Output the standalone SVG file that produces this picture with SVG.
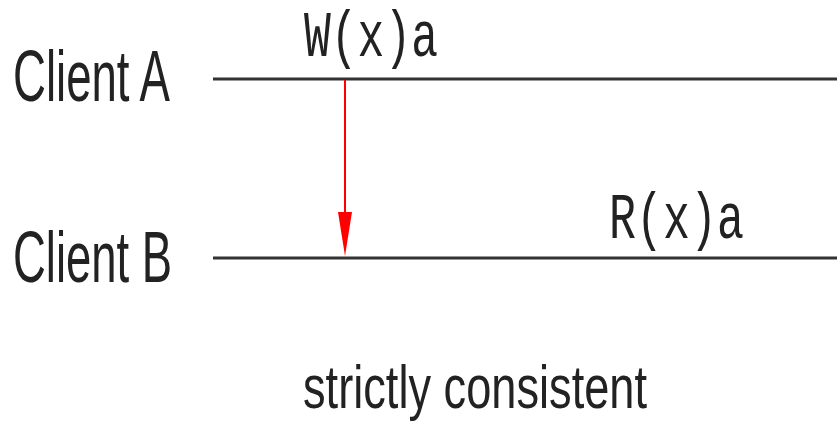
<svg xmlns="http://www.w3.org/2000/svg" width="837" height="430" viewBox="0 0 837 430">
<defs>
<style>
.lbl{font-family:"Liberation Sans",Arial,sans-serif;fill:#222;}
.mono{font-family:"Liberation Mono","Courier New",monospace;fill:#222;}
.tl{stroke:#333;stroke-width:3;fill:none;}
</style>
<marker id="ah" markerUnits="userSpaceOnUse" markerWidth="16" markerHeight="42" refX="8" refY="42" orient="auto-start-reverse" viewBox="0 0 16 42">
<path d="M1,0 L15,0 L8,42 Z" fill="#ff0000"/>
</marker>
</defs>
<rect width="837" height="430" fill="#fff"/>
<g id="clientA">
<text class="lbl" x="13" y="101" font-size="72" textLength="157" lengthAdjust="spacingAndGlyphs">Client A</text>
</g>
<g id="clientB">
<text class="lbl" x="13" y="282" font-size="72" textLength="159" lengthAdjust="spacingAndGlyphs">Client B</text>
</g>
<g id="timelines">
<line class="tl" x1="213" y1="79" x2="837" y2="79"/>
<line class="tl" x1="213" y1="258" x2="837" y2="258"/>
</g>
<g id="ops">
<text class="mono" x="304" y="56" font-size="64" textLength="134" lengthAdjust="spacingAndGlyphs">W(x)a</text>
<text class="mono" x="609" y="238" font-size="64" textLength="135" lengthAdjust="spacingAndGlyphs">R(x)a</text>
</g>
<g id="connectors">
<path d="M345,80 V212" stroke="#ff0000" stroke-width="2" fill="none"/>
<path d="M338,212 L352,212 L345,256 Z" fill="#ff0000"/>
</g>
<g id="caption">
<text class="lbl" x="303" y="408" font-size="62" textLength="344" lengthAdjust="spacingAndGlyphs">strictly consistent</text>
</g>
</svg>
